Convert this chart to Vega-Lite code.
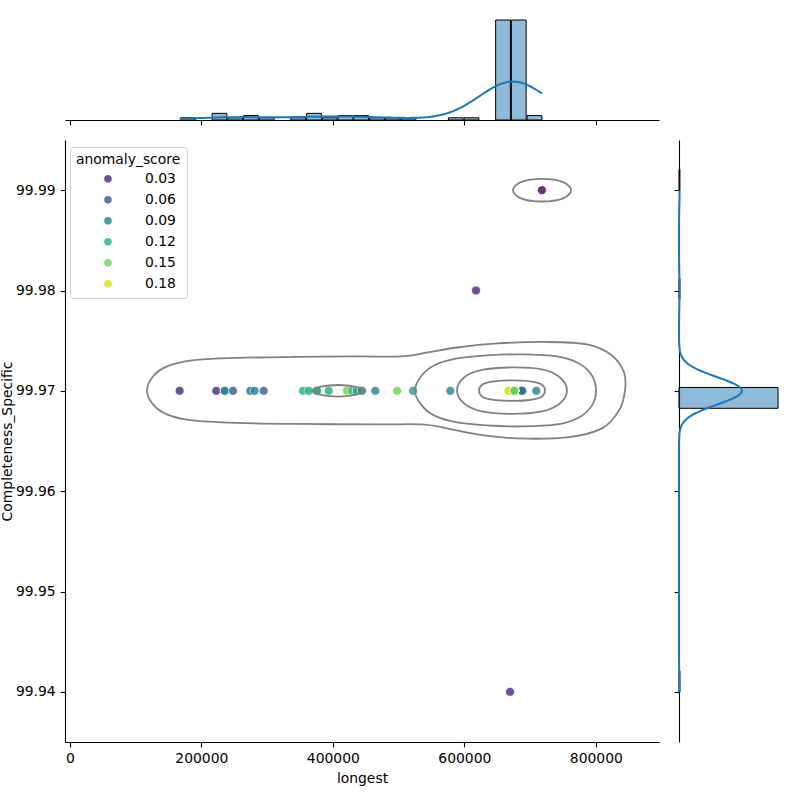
{
"$schema": "https://vega.github.io/schema/vega-lite/v6.json",
"background": "white",
"padding": {"top": 15, "left": 0, "right": 0, "bottom": 0},
"config": {
  "view": {"stroke": null},
  "font": "DejaVu Sans",
  "axis": {"grid": false, "domainColor": "#000", "domainWidth": 1.1, "tickColor": "#000", "tickWidth": 1.1, "tickSize": 4.9, "labelPadding": 4.9, "labelFontSize": 13.9, "labelColor": "#000", "titleFontSize": 13.9, "titleFontWeight": "normal", "titleColor": "#000", "titlePadding": 5.6, "labelFlush": false}
},
"data": {"values": [
    {"longest":167000,"Completeness_Specific":99.97,"anomaly_score":0.03},
    {"longest":222800,"Completeness_Specific":99.97,"anomaly_score":0.03},
    {"longest":235600,"Completeness_Specific":99.97,"anomaly_score":0.08},
    {"longest":235600,"Completeness_Specific":99.97,"anomaly_score":0.09},
    {"longest":248200,"Completeness_Specific":99.97,"anomaly_score":0.06},
    {"longest":274500,"Completeness_Specific":99.97,"anomaly_score":0.07},
    {"longest":281200,"Completeness_Specific":99.97,"anomaly_score":0.09},
    {"longest":294900,"Completeness_Specific":99.97,"anomaly_score":0.06},
    {"longest":354700,"Completeness_Specific":99.97,"anomaly_score":0.12},
    {"longest":363300,"Completeness_Specific":99.97,"anomaly_score":0.12},
    {"longest":376000,"Completeness_Specific":99.97,"anomaly_score":0.10},
    {"longest":376000,"Completeness_Specific":99.97,"anomaly_score":0.12},
    {"longest":393800,"Completeness_Specific":99.97,"anomaly_score":0.12},
    {"longest":421600,"Completeness_Specific":99.97,"anomaly_score":0.15},
    {"longest":429200,"Completeness_Specific":99.97,"anomaly_score":0.13},
    {"longest":436800,"Completeness_Specific":99.97,"anomaly_score":0.11},
    {"longest":444400,"Completeness_Specific":99.97,"anomaly_score":0.08},
    {"longest":464600,"Completeness_Specific":99.97,"anomaly_score":0.09},
    {"longest":497800,"Completeness_Specific":99.97,"anomaly_score":0.15},
    {"longest":522100,"Completeness_Specific":99.97,"anomaly_score":0.11},
    {"longest":578700,"Completeness_Specific":99.97,"anomaly_score":0.09},
    {"longest":617800,"Completeness_Specific":99.98,"anomaly_score":0.03},
    {"longest":669500,"Completeness_Specific":99.94,"anomaly_score":0.03},
    {"longest":718000,"Completeness_Specific":99.99,"anomaly_score":0.01},
    {"longest":709500,"Completeness_Specific":99.97,"anomaly_score":0.09},
    {"longest":667500,"Completeness_Specific":99.97,"anomaly_score":0.18},
    {"longest":667500,"Completeness_Specific":99.97,"anomaly_score":0.18},
    {"longest":667500,"Completeness_Specific":99.97,"anomaly_score":0.18},
    {"longest":667500,"Completeness_Specific":99.97,"anomaly_score":0.18},
    {"longest":667500,"Completeness_Specific":99.97,"anomaly_score":0.18},
    {"longest":667500,"Completeness_Specific":99.97,"anomaly_score":0.18},
    {"longest":667500,"Completeness_Specific":99.97,"anomaly_score":0.18},
    {"longest":667500,"Completeness_Specific":99.97,"anomaly_score":0.18},
    {"longest":667500,"Completeness_Specific":99.97,"anomaly_score":0.18},
    {"longest":667500,"Completeness_Specific":99.97,"anomaly_score":0.18},
    {"longest":667500,"Completeness_Specific":99.97,"anomaly_score":0.18},
    {"longest":667500,"Completeness_Specific":99.97,"anomaly_score":0.18},
    {"longest":667500,"Completeness_Specific":99.97,"anomaly_score":0.18},
    {"longest":667500,"Completeness_Specific":99.97,"anomaly_score":0.18},
    {"longest":667500,"Completeness_Specific":99.97,"anomaly_score":0.18},
    {"longest":667500,"Completeness_Specific":99.97,"anomaly_score":0.18},
    {"longest":667500,"Completeness_Specific":99.97,"anomaly_score":0.18},
    {"longest":667500,"Completeness_Specific":99.97,"anomaly_score":0.18},
    {"longest":667500,"Completeness_Specific":99.97,"anomaly_score":0.18},
    {"longest":667500,"Completeness_Specific":99.97,"anomaly_score":0.18},
    {"longest":667500,"Completeness_Specific":99.97,"anomaly_score":0.18},
    {"longest":667500,"Completeness_Specific":99.97,"anomaly_score":0.18},
    {"longest":667500,"Completeness_Specific":99.97,"anomaly_score":0.18},
    {"longest":667500,"Completeness_Specific":99.97,"anomaly_score":0.18},
    {"longest":667500,"Completeness_Specific":99.97,"anomaly_score":0.18},
    {"longest":667500,"Completeness_Specific":99.97,"anomaly_score":0.18},
    {"longest":667500,"Completeness_Specific":99.97,"anomaly_score":0.18},
    {"longest":667500,"Completeness_Specific":99.97,"anomaly_score":0.18},
    {"longest":667500,"Completeness_Specific":99.97,"anomaly_score":0.18},
    {"longest":667500,"Completeness_Specific":99.97,"anomaly_score":0.18},
    {"longest":667500,"Completeness_Specific":99.97,"anomaly_score":0.18},
    {"longest":667500,"Completeness_Specific":99.97,"anomaly_score":0.18},
    {"longest":667500,"Completeness_Specific":99.97,"anomaly_score":0.18},
    {"longest":667500,"Completeness_Specific":99.97,"anomaly_score":0.18},
    {"longest":667500,"Completeness_Specific":99.97,"anomaly_score":0.18},
    {"longest":667500,"Completeness_Specific":99.97,"anomaly_score":0.18},
    {"longest":667500,"Completeness_Specific":99.97,"anomaly_score":0.18},
    {"longest":667500,"Completeness_Specific":99.97,"anomaly_score":0.18},
    {"longest":667500,"Completeness_Specific":99.97,"anomaly_score":0.18},
    {"longest":667500,"Completeness_Specific":99.97,"anomaly_score":0.18},
    {"longest":667500,"Completeness_Specific":99.97,"anomaly_score":0.18},
    {"longest":667500,"Completeness_Specific":99.97,"anomaly_score":0.18},
    {"longest":667500,"Completeness_Specific":99.97,"anomaly_score":0.18},
    {"longest":667500,"Completeness_Specific":99.97,"anomaly_score":0.18},
    {"longest":687800,"Completeness_Specific":99.97,"anomaly_score":0.08},
    {"longest":687800,"Completeness_Specific":99.97,"anomaly_score":0.08},
    {"longest":687800,"Completeness_Specific":99.97,"anomaly_score":0.08},
    {"longest":687800,"Completeness_Specific":99.97,"anomaly_score":0.08},
    {"longest":687800,"Completeness_Specific":99.97,"anomaly_score":0.08},
    {"longest":687800,"Completeness_Specific":99.97,"anomaly_score":0.08},
    {"longest":687800,"Completeness_Specific":99.97,"anomaly_score":0.08},
    {"longest":687800,"Completeness_Specific":99.97,"anomaly_score":0.08},
    {"longest":687800,"Completeness_Specific":99.97,"anomaly_score":0.08},
    {"longest":687800,"Completeness_Specific":99.97,"anomaly_score":0.08},
    {"longest":687800,"Completeness_Specific":99.97,"anomaly_score":0.08},
    {"longest":687800,"Completeness_Specific":99.97,"anomaly_score":0.08},
    {"longest":687800,"Completeness_Specific":99.97,"anomaly_score":0.08},
    {"longest":687800,"Completeness_Specific":99.97,"anomaly_score":0.08},
    {"longest":687800,"Completeness_Specific":99.97,"anomaly_score":0.08},
    {"longest":676000,"Completeness_Specific":99.97,"anomaly_score":0.15},
    {"longest":676000,"Completeness_Specific":99.97,"anomaly_score":0.15},
    {"longest":676000,"Completeness_Specific":99.97,"anomaly_score":0.15},
    {"longest":676000,"Completeness_Specific":99.97,"anomaly_score":0.15},
    {"longest":676000,"Completeness_Specific":99.97,"anomaly_score":0.15},
    {"longest":676000,"Completeness_Specific":99.97,"anomaly_score":0.15},
    {"longest":676000,"Completeness_Specific":99.97,"anomaly_score":0.15},
    {"longest":676000,"Completeness_Specific":99.97,"anomaly_score":0.15},
    {"longest":676000,"Completeness_Specific":99.97,"anomaly_score":0.15},
    {"longest":676000,"Completeness_Specific":99.97,"anomaly_score":0.15},
    {"longest":676000,"Completeness_Specific":99.97,"anomaly_score":0.15},
    {"longest":676000,"Completeness_Specific":99.97,"anomaly_score":0.15},
    {"longest":676000,"Completeness_Specific":99.97,"anomaly_score":0.15},
    {"longest":676000,"Completeness_Specific":99.97,"anomaly_score":0.15},
    {"longest":676000,"Completeness_Specific":99.97,"anomaly_score":0.15},
    {"longest":676000,"Completeness_Specific":99.97,"anomaly_score":0.15},
    {"longest":676000,"Completeness_Specific":99.97,"anomaly_score":0.15},
    {"longest":676000,"Completeness_Specific":99.97,"anomaly_score":0.15},
    {"longest":676000,"Completeness_Specific":99.97,"anomaly_score":0.15},
    {"longest":676000,"Completeness_Specific":99.97,"anomaly_score":0.15},
    {"longest":676000,"Completeness_Specific":99.97,"anomaly_score":0.15},
    {"longest":676000,"Completeness_Specific":99.97,"anomaly_score":0.15},
    {"longest":676000,"Completeness_Specific":99.97,"anomaly_score":0.15},
    {"longest":676000,"Completeness_Specific":99.97,"anomaly_score":0.15},
    {"longest":676000,"Completeness_Specific":99.97,"anomaly_score":0.15},
    {"longest":676000,"Completeness_Specific":99.97,"anomaly_score":0.15},
    {"longest":676000,"Completeness_Specific":99.97,"anomaly_score":0.15},
    {"longest":676000,"Completeness_Specific":99.97,"anomaly_score":0.15},
    {"longest":676000,"Completeness_Specific":99.97,"anomaly_score":0.15},
    {"longest":676000,"Completeness_Specific":99.97,"anomaly_score":0.15}
]},
"spacing": 20,
"bounds": "flush",
"vconcat": [
  {
    "width": 594, "height": 105,
    "layer": [
      {
        "mark": {"type": "bar", "fill": "#1f77b4", "fillOpacity": 0.5, "stroke": "#000000", "strokeWidth": 1},
        "encoding": {
          "x": {"field": "longest", "type": "quantitative", "bin": {"extent": [167000, 718000], "step": 23956.52174, "nice": false}, "scale": {"domain": [-7300, 896100], "nice": false, "zero": false}, "axis": {"values": [0, 200000, 400000, 600000, 800000], "labels": false, "title": null}},
          "y": {"aggregate": "count", "type": "quantitative", "scale": {"domain": [0, 47.25]}, "axis": null}
        }
      },
      {
        "transform": [{"density": "longest", "bandwidth": 50482, "extent": [167000, 718000], "counts": true, "steps": 300}],
        "mark": {"type": "line", "color": "#1f77b4", "strokeWidth": 2},
        "encoding": {
          "x": {"field": "value", "type": "quantitative"},
          "y": {"field": "density", "type": "quantitative", "scale": {"domain": [0, 0.00197233]}, "axis": null}
        }
      }
    ],
    "resolve": {"scale": {"y": "independent"}}
  },
  {
    "spacing": 20,
    "bounds": "flush",
    "hconcat": [
      {
        "width": 594, "height": 602,
        "layer": [
          {
            "mark": {"type": "circle", "size": 82, "opacity": 0.8, "stroke": "white", "strokeWidth": 0.8},
            "encoding": {
              "x": {"field": "longest", "type": "quantitative", "scale": {"domain": [-7300, 896100], "nice": false, "zero": false}, "axis": {"values": [0, 200000, 400000, 600000, 800000], "format": "d", "title": "longest"}},
              "y": {"field": "Completeness_Specific", "type": "quantitative", "scale": {"domain": [99.935, 99.995], "nice": false, "zero": false}, "axis": {"values": [99.94, 99.95, 99.96, 99.97, 99.98, 99.99], "format": ".2f", "title": "Completeness_Specific", "titlePadding": 1}},
              "color": {"field": "anomaly_score", "type": "quantitative", "scale": {"scheme": "viridis", "domain": [0.01, 0.19]},
                "legend": {"type": "symbol", "values": [0.03, 0.06, 0.09, 0.12, 0.15, 0.18], "format": ".2f", "title": "anomaly_score", "orient": "none", "legendX": 5, "legendY": 132, "titleFontSize": 13.9, "titleFontWeight": "normal", "titleColor": "#000", "labelFontSize": 13.9, "labelColor": "#000", "symbolType": "circle", "symbolSize": 82, "symbolOpacity": 0.8, "padding": 6, "rowPadding": 5, "fillColor": "white", "strokeColor": "#d0d0d0", "cornerRadius": 3, "symbolOffset": 25, "labelOffset": 30}}
            }
          },
          {
            "data": {"values": [
              {"c":"o","i":0,"longest":117400,"Completeness_Specific":99.97004},
              {"c":"o","i":1,"longest":126500,"Completeness_Specific":99.97143},
              {"c":"o","i":2,"longest":147800,"Completeness_Specific":99.97243},
              {"c":"o","i":3,"longest":185900,"Completeness_Specific":99.97303},
              {"c":"o","i":4,"longest":254300,"Completeness_Specific":99.97328},
              {"c":"o","i":5,"longest":345500,"Completeness_Specific":99.97338},
              {"c":"o","i":6,"longest":436800,"Completeness_Specific":99.97343},
              {"c":"o","i":7,"longest":505200,"Completeness_Specific":99.97343},
              {"c":"o","i":8,"longest":543300,"Completeness_Specific":99.97382},
              {"c":"o","i":9,"longest":588900,"Completeness_Specific":99.97432},
              {"c":"o","i":10,"longest":649700,"Completeness_Specific":99.97472},
              {"c":"o","i":11,"longest":725800,"Completeness_Specific":99.97487},
              {"c":"o","i":12,"longest":786600,"Completeness_Specific":99.97462},
              {"c":"o","i":13,"longest":824600,"Completeness_Specific":99.97353},
              {"c":"o","i":14,"longest":842900,"Completeness_Specific":99.97183},
              {"c":"o","i":15,"longest":844400,"Completeness_Specific":99.97004},
              {"c":"o","i":16,"longest":835300,"Completeness_Specific":99.96805},
              {"c":"o","i":17,"longest":809400,"Completeness_Specific":99.96626},
              {"c":"o","i":18,"longest":756200,"Completeness_Specific":99.96536},
              {"c":"o","i":19,"longest":680100,"Completeness_Specific":99.96526},
              {"c":"o","i":20,"longest":619300,"Completeness_Specific":99.96566},
              {"c":"o","i":21,"longest":573700,"Completeness_Specific":99.96626},
              {"c":"o","i":22,"longest":535700,"Completeness_Specific":99.96665},
              {"c":"o","i":23,"longest":467300,"Completeness_Specific":99.96665},
              {"c":"o","i":24,"longest":345500,"Completeness_Specific":99.9667},
              {"c":"o","i":25,"longest":254300,"Completeness_Specific":99.9668},
              {"c":"o","i":26,"longest":185900,"Completeness_Specific":99.96705},
              {"c":"o","i":27,"longest":147800,"Completeness_Specific":99.96765},
              {"c":"o","i":28,"longest":126500,"Completeness_Specific":99.96865},
              {"c":"b","i":0,"longest":525000,"Completeness_Specific":99.97004},
              {"c":"b","i":1,"longest":534100,"Completeness_Specific":99.97143},
              {"c":"b","i":2,"longest":553900,"Completeness_Specific":99.97253},
              {"c":"b","i":3,"longest":588900,"Completeness_Specific":99.97323},
              {"c":"b","i":4,"longest":634500,"Completeness_Specific":99.97353},
              {"c":"b","i":5,"longest":687700,"Completeness_Specific":99.97363},
              {"c":"b","i":6,"longest":741000,"Completeness_Specific":99.97343},
              {"c":"b","i":7,"longest":774400,"Completeness_Specific":99.97273},
              {"c":"b","i":8,"longest":794200,"Completeness_Specific":99.97153},
              {"c":"b","i":9,"longest":800300,"Completeness_Specific":99.97004},
              {"c":"b","i":10,"longest":794200,"Completeness_Specific":99.96855},
              {"c":"b","i":11,"longest":774400,"Completeness_Specific":99.96735},
              {"c":"b","i":12,"longest":741000,"Completeness_Specific":99.96665},
              {"c":"b","i":13,"longest":687700,"Completeness_Specific":99.96645},
              {"c":"b","i":14,"longest":634500,"Completeness_Specific":99.96655},
              {"c":"b","i":15,"longest":588900,"Completeness_Specific":99.96685},
              {"c":"b","i":16,"longest":553900,"Completeness_Specific":99.96755},
              {"c":"b","i":17,"longest":534100,"Completeness_Specific":99.96865},
              {"c":"t","i":0,"longest":588900,"Completeness_Specific":99.97004},
              {"c":"t","i":1,"longest":599500,"Completeness_Specific":99.97133},
              {"c":"t","i":2,"longest":626900,"Completeness_Specific":99.97208},
              {"c":"t","i":3,"longest":672500,"Completeness_Specific":99.97233},
              {"c":"t","i":4,"longest":718200,"Completeness_Specific":99.97213},
              {"c":"t","i":5,"longest":745500,"Completeness_Specific":99.97133},
              {"c":"t","i":6,"longest":756200,"Completeness_Specific":99.97004},
              {"c":"t","i":7,"longest":745500,"Completeness_Specific":99.96875},
              {"c":"t","i":8,"longest":718200,"Completeness_Specific":99.96795},
              {"c":"t","i":9,"longest":672500,"Completeness_Specific":99.9677},
              {"c":"t","i":10,"longest":626900,"Completeness_Specific":99.96795},
              {"c":"t","i":11,"longest":599500,"Completeness_Specific":99.96875},
              {"c":"f","i":0,"longest":622400,"Completeness_Specific":99.97004},
              {"c":"f","i":1,"longest":633000,"Completeness_Specific":99.97079},
              {"c":"f","i":2,"longest":672500,"Completeness_Specific":99.97104},
              {"c":"f","i":3,"longest":712100,"Completeness_Specific":99.97079},
              {"c":"f","i":4,"longest":722700,"Completeness_Specific":99.97004},
              {"c":"f","i":5,"longest":712100,"Completeness_Specific":99.96924},
              {"c":"f","i":6,"longest":672500,"Completeness_Specific":99.96899},
              {"c":"f","i":7,"longest":633000,"Completeness_Specific":99.96924},
              {"c":"s","i":0,"longest":368400,"Completeness_Specific":99.97},
              {"c":"s","i":1,"longest":382000,"Completeness_Specific":99.97041},
              {"c":"s","i":2,"longest":407900,"Completeness_Specific":99.97058},
              {"c":"s","i":3,"longest":433800,"Completeness_Specific":99.97041},
              {"c":"s","i":4,"longest":449000,"Completeness_Specific":99.97},
              {"c":"s","i":5,"longest":433800,"Completeness_Specific":99.96959},
              {"c":"s","i":6,"longest":407900,"Completeness_Specific":99.96942},
              {"c":"s","i":7,"longest":382000,"Completeness_Specific":99.96959},
              {"c":"e","i":0,"longest":674100,"Completeness_Specific":99.99},
              {"c":"e","i":1,"longest":686200,"Completeness_Specific":99.99081},
              {"c":"e","i":2,"longest":718200,"Completeness_Specific":99.99113},
              {"c":"e","i":3,"longest":750100,"Completeness_Specific":99.99081},
              {"c":"e","i":4,"longest":762300,"Completeness_Specific":99.99},
              {"c":"e","i":5,"longest":750100,"Completeness_Specific":99.98919},
              {"c":"e","i":6,"longest":718200,"Completeness_Specific":99.98887},
              {"c":"e","i":7,"longest":686200,"Completeness_Specific":99.98919}
            ]},
            "mark": {"type": "line", "interpolate": "cardinal-closed", "color": "#808080", "strokeWidth": 1.8},
            "encoding": {
              "x": {"field": "longest", "type": "quantitative"},
              "y": {"field": "Completeness_Specific", "type": "quantitative"},
              "detail": {"field": "c", "type": "nominal"},
              "order": {"field": "i", "type": "quantitative"}
            }
          }
        ]
      },
      {
        "width": 104, "height": 602,
        "layer": [
          {
            "mark": {"type": "bar", "fill": "#1f77b4", "fillOpacity": 0.5, "stroke": "#000000", "strokeWidth": 1},
            "encoding": {
              "y": {"field": "Completeness_Specific", "type": "quantitative", "bin": {"extent": [99.94, 99.99], "step": 0.002173913, "nice": false}, "scale": {"domain": [99.935, 99.995], "nice": false, "zero": false}, "axis": {"values": [99.94, 99.95, 99.96, 99.97, 99.98, 99.99], "labels": false, "title": null}},
              "x": {"aggregate": "count", "type": "quantitative", "scale": {"domain": [0, 116.55]}, "axis": null}
            }
          },
          {
            "transform": [{"density": "Completeness_Specific", "bandwidth": 0.0013657, "extent": [99.94, 99.99], "counts": true, "steps": 300}],
            "mark": {"type": "line", "color": "#1f77b4", "strokeWidth": 2},
            "encoding": {
              "y": {"field": "value", "type": "quantitative"},
              "x": {"field": "density", "type": "quantitative", "scale": {"domain": [0, 53613]}, "axis": null},
              "order": {"field": "value", "type": "quantitative"}
            }
          }
        ],
        "resolve": {"scale": {"x": "independent"}}
      }
    ]
  }
]
}
